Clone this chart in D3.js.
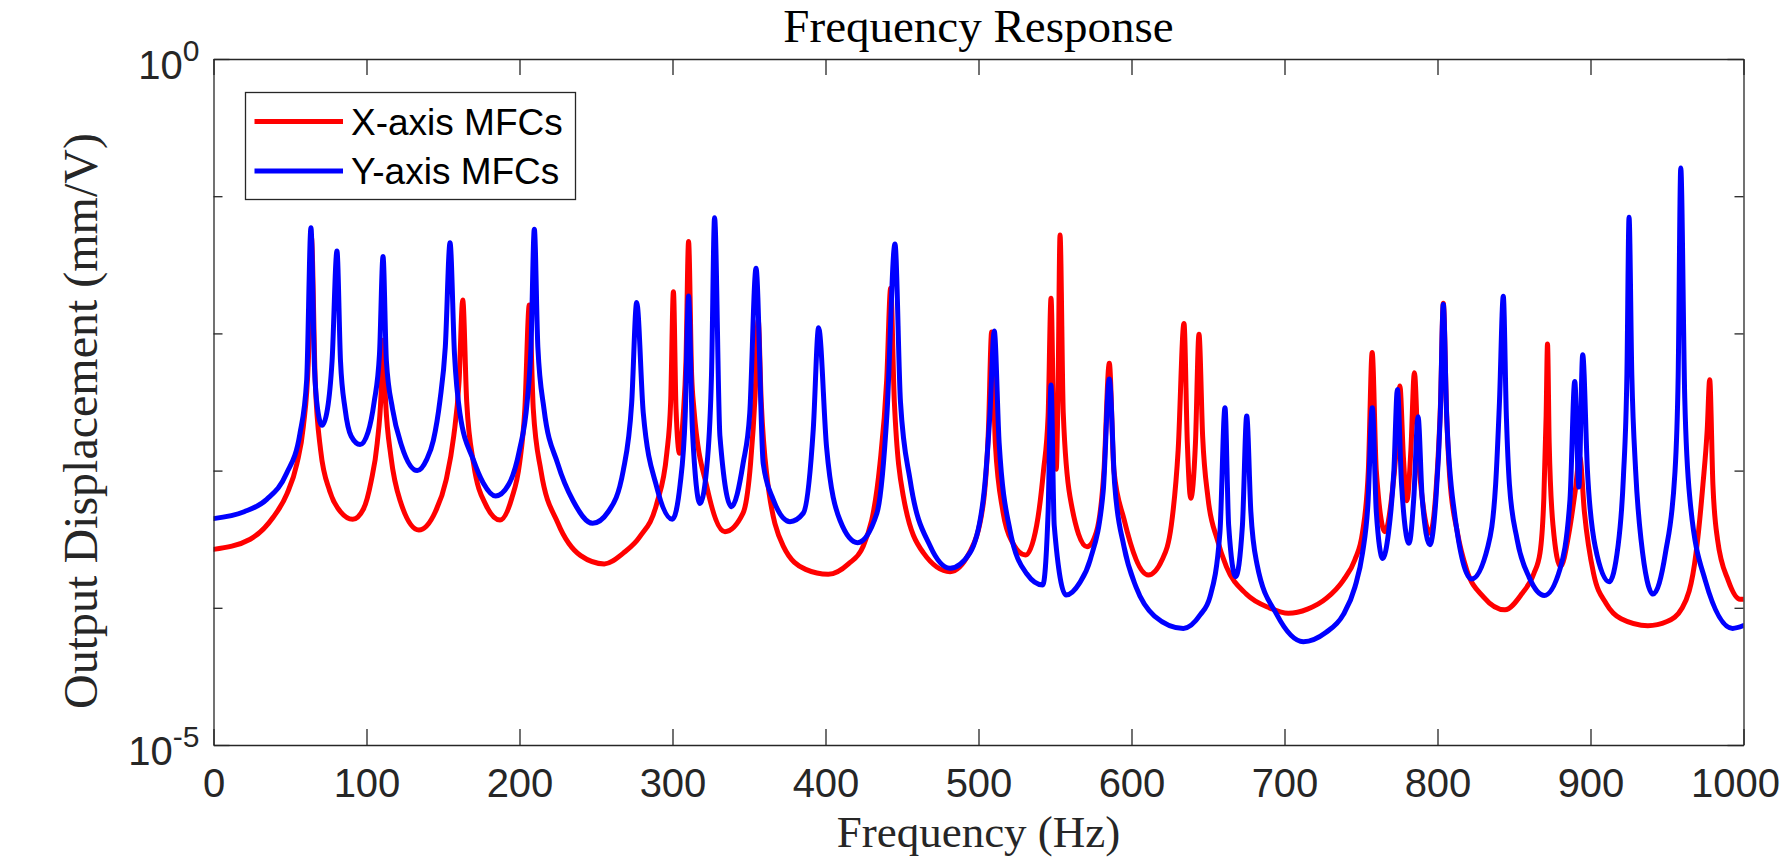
<!DOCTYPE html>
<html>
<head>
<meta charset="utf-8">
<script src="https://cdn.jsdelivr.net/npm/d3@7"></script>
<style>
  body { margin: 0; background: #fff; }
  svg { display: block; }
</style>
</head>
<body>
<div id="chart"></div>
<script>
// Readings: [frequency (Hz), log10 of displacement (mm/V)]
const xAxisMfcs = [
  [0,-3.574],[24,-3.5],[39,-3.34],[48,-3.17],[54.5,-2.95],[58.7,-2.68],[62,-2.2],[64,-1.3],[66.5,-2.35],[70,-2.85],
  [76,-3.15],[83,-3.3],[91,-3.355],[98,-3.28],[103,-3.08],[107,-2.8],[109.5,-2.45],[110.8,-2.05],[112.5,-2.5],[116,-2.9],
  [122,-3.22],[134.2,-3.433],[145,-3.3],[152,-3.07],[157,-2.75],[160.5,-2.35],[162.9,-1.757],[165.5,-2.5],[170,-2.95],[178,-3.25],
  [187.3,-3.36],[195,-3.2],[200,-2.95],[203.5,-2.55],[206.4,-1.793],[209,-2.55],[214,-3.0],[225,-3.38],[240,-3.62],[255.4,-3.68],
  [268,-3.6],[278.8,-3.48],[289.7,-3.24],[296.3,-2.87],[298.8,-2.5],[300.6,-1.696],[302.3,-2.55],[304.6,-2.874],[307,-2.6],[308.8,-2.2],
  [310.5,-1.331],[312.5,-2.3],[314,-2.55],[322.5,-3.12],[334.3,-3.445],[346.1,-3.31],[351,-2.95],[354,-2.45],[356,-1.9],[358,-2.5],
  [361.5,-3.02],[372.4,-3.55],[387,-3.72],[401.8,-3.756],[415,-3.68],[424.7,-3.55],[435.6,-2.95],[440,-2.34],[442.6,-1.671],[445,-2.5],
  [450.9,-3.19],[464,-3.6],[481.4,-3.737],[494,-3.6],[503,-3.25],[506.5,-2.7],[508.6,-1.99],[511,-2.8],[516,-3.3],[522,-3.52],
  [530.8,-3.615],[538,-3.4],[542.5,-3.0],[545.5,-2.6],[547.4,-1.744],[549.2,-2.7],[550.8,-2.99],[551.9,-2.5],[553.3,-1.283],[555.4,-2.58],
  [559.8,-3.19],[571,-3.555],[577,-3.45],[582,-3.0],[585.5,-2.218],[588.5,-3.0],[595,-3.35],[611,-3.761],[620,-3.65],[626,-3.4],
  [630.5,-2.85],[634.3,-1.927],[636.5,-2.8],[638.7,-3.202],[641.8,-2.8],[644.1,-2.007],[646.5,-2.75],[650,-3.2],[656,-3.5],[662,-3.7],
  [675,-3.9],[690,-4.0],[702.5,-4.04],[715,-4.01],[727.5,-3.93],[738.4,-3.8],[746,-3.65],[751,-3.45],[754.8,-3.0],[757.3,-2.14],[760,-3.0],
  [765.7,-3.445],[770,-3.2],[773,-2.85],[775.4,-2.383],[777.7,-2.9],[780,-3.219],[782.6,-2.85],[784.9,-2.286],[787.5,-2.9],[790,-3.2],
  [795.1,-3.457],[799,-3.15],[802,-2.5],[803.8,-1.781],[806,-2.6],[808,-3.05],[813,-3.45],[819,-3.72],[830,-3.92],[844.1,-4.015],
  [855,-3.9],[863,-3.75],[867,-3.6],[869.5,-3.2],[871,-2.6],[871.9,-2.077],[873,-2.8],[875.5,-3.4],[880.4,-3.7],[886,-3.45],
  [890,-3.15],[893,-2.9],[896,-3.3],[902,-3.75],[910.3,-3.97],[920,-4.08],[937.5,-4.13],[950,-4.1],[960,-4.0],[969,-3.6],
  [973.5,-3.1],[976.3,-2.7],[977.9,-2.337],[980,-3.1],[983,-3.5],[990,-3.8],[997.7,-3.937],[1000,-3.937]
];

const yAxisMfcs = [
  [0,-3.35],[20,-3.3],[34.8,-3.21],[47.8,-3.02],[56.5,-2.73],[60.9,-2.34],[63.7,-1.23],[66,-2.25],[68,-2.55],[71,-2.67],
  [74.5,-2.55],[77.5,-2.2],[80.7,-1.4],[83,-2.2],[86,-2.55],[90,-2.75],[95.8,-2.81],[101,-2.72],[105,-2.5],[108.5,-2.15],
  [110.8,-1.44],[113,-2.2],[117,-2.55],[123,-2.82],[133.2,-3.0],[139.3,-2.92],[143.7,-2.78],[148,-2.49],[151.5,-2.1],[154.6,-1.34],
  [157.5,-2.15],[161,-2.58],[169.8,-2.92],[176.3,-3.09],[184.4,-3.185],[193,-3.1],[200,-2.85],[205,-2.5],[207.5,-2.1],[209.7,-1.24],
  [212,-2.1],[216,-2.55],[225,-2.95],[235,-3.22],[247.8,-3.384],[258,-3.3],[267.8,-3.0],[273.3,-2.51],[276.6,-1.774],[280.9,-2.58],
  [289.7,-3.12],[299.9,-3.355],[305,-3.1],[308.3,-2.6],[310.5,-1.727],[313,-2.7],[318,-3.24],[323,-2.9],[325.5,-2.3],[327.5,-1.157],
  [331,-2.75],[338.5,-3.263],[346.1,-2.95],[350.5,-2.58],[354.6,-1.526],[359.3,-2.95],[365.8,-3.21],[376.8,-3.372],[385.5,-3.31],[392,-2.7],
  [395.5,-1.958],[400.7,-2.83],[409.4,-3.36],[421,-3.525],[433.6,-3.31],[440.2,-2.58],[445.4,-1.348],[449,-2.5],[455.3,-3.07],[468.4,-3.55],
  [481.4,-3.712],[494.4,-3.6],[503.1,-3.21],[507.5,-2.58],[510.3,-1.983],[513.5,-2.8],[520.5,-3.43],[531.4,-3.75],[542,-3.834],[545.5,-3.3],
  [547.4,-2.376],[549.5,-3.4],[557.2,-3.907],[566,-3.82],[573,-3.65],[581.5,-3.15],[585.5,-2.332],[589,-3.1],[595,-3.55],[603,-3.85],
  [615,-4.06],[633.9,-4.15],[645,-4.05],[651.3,-3.92],[657.8,-3.45],[661.1,-2.541],[663.5,-3.4],[668.1,-3.773],[672.5,-3.4],[675.3,-2.602],
  [678,-3.3],[682,-3.68],[695,-4.05],[712.3,-4.247],[727,-4.18],[738.4,-4.05],[746,-3.85],[751,-3.6],[754.5,-3.25],[757.4,-2.541],[760,-3.3],
  [764.2,-3.64],[768,-3.45],[771.5,-3.0],[773.8,-2.408],[776.5,-3.1],[781.4,-3.53],[784.5,-3.2],[787.3,-2.607],[790,-3.2],[795,-3.54],
  [799,-3.2],[801.8,-2.6],[803.8,-1.787],[806,-2.6],[811,-3.3],[822.3,-3.79],[833,-3.55],[838,-3.1],[840.5,-2.5],[843,-1.729],
  [845,-2.6],[847,-3.1],[852,-3.5],[860,-3.78],[869.8,-3.91],[880,-3.72],[886.6,-3.21],[889.7,-2.35],[892.4,-3.12],[894.9,-2.155],
  [898,-3.0],[903,-3.55],[912.2,-3.81],[918,-3.55],[921.5,-3.05],[923.8,-2.3],[925.2,-1.153],[927,-2.3],[929.5,-3.0],[933,-3.5],
  [940.9,-3.9],[949,-3.6],[955.1,-3.03],[957.3,-2.31],[959,-0.794],[961.6,-2.47],[965,-3.21],[975,-3.8],[992.9,-4.15],[1000,-4.13]
];

const series = [
  { name: "X-axis MFCs", color: "#ff0000", values: xAxisMfcs },
  { name: "Y-axis MFCs", color: "#0000ff", values: yAxisMfcs }
];

const freqTicks = [0, 100, 200, 300, 400, 500, 600, 700, 800, 900, 1000];
const majorDecades = [1, 1e-5];
const minorDecades = [1e-1, 1e-2, 1e-3, 1e-4];
const decadeLabels = [{ value: 1, exp: "0" }, { value: 1e-5, exp: "-5" }];

const W = 1781, H = 857;
const margin = { top: 59, right: 37.5, bottom: 112, left: 213.5 };
const width = W - margin.left - margin.right;
const height = H - margin.top - margin.bottom;
const axisColor = "#262626";
const sans = "'Liberation Sans', Arial, Helvetica, sans-serif";
const serif = "'Liberation Serif', 'Times New Roman', serif";

const svg = d3.select("#chart")
  .append("svg")
  .attr("width", W)
  .attr("height", H);

const g = svg.append("g")
  .attr("transform", `translate(${margin.left},${margin.top})`);

const x = d3.scaleLinear().domain([0, 1000]).range([0, width]);
const y = d3.scaleLog().domain([1e-5, 1]).range([height, 0]);

g.append("clipPath").attr("id", "plot-clip")
  .append("rect").attr("width", width).attr("height", height);

// curves
const line = d3.line()
  .x(d => x(d[0]))
  .y(d => y(Math.pow(10, d[1])))
  .curve(d3.curveMonotoneX);

g.append("g")
  .attr("clip-path", "url(#plot-clip)")
  .selectAll("path")
  .data(series)
  .enter().append("path")
  .attr("d", d => line(d.values))
  .attr("fill", "none")
  .attr("stroke", d => d.color)
  .attr("stroke-width", 5)
  .attr("stroke-linejoin", "round")
  .attr("stroke-linecap", "round");

// axes (box with inward ticks)
function styleAxis(sel) {
  sel.attr("color", axisColor);
  sel.select(".domain").attr("stroke-width", 1.3);
  sel.selectAll(".tick line").attr("stroke-width", 1.3);
}

g.append("g")
  .attr("transform", `translate(0,${height})`)
  .call(d3.axisBottom(x).tickValues(freqTicks).tickFormat(d3.format("d"))
    .tickSizeInner(-16).tickSizeOuter(0).tickPadding(24))
  .call(styleAxis)
  .call(a => a.selectAll("text").attr("font-family", sans).attr("font-size", 40).attr("fill", axisColor))
  // keep the last label inside the page
  .call(a => a.selectAll(".tick text").filter(d => d === 1000).attr("text-anchor", "end").attr("x", 36));

g.append("g")
  .call(d3.axisTop(x).tickValues(freqTicks).tickSizeInner(-16).tickSizeOuter(0).tickFormat(""))
  .call(styleAxis);

g.append("g")
  .call(d3.axisLeft(y).tickValues(majorDecades).tickSizeInner(-16).tickSizeOuter(0).tickFormat(""))
  .call(styleAxis);
g.append("g")
  .call(d3.axisLeft(y).tickValues(minorDecades).tickSizeInner(-9).tickSizeOuter(0).tickFormat(""))
  .call(styleAxis)
  .call(a => a.select(".domain").remove());

g.append("g")
  .attr("transform", `translate(${width},0)`)
  .call(d3.axisRight(y).tickValues(majorDecades).tickSizeInner(-16).tickSizeOuter(0).tickFormat(""))
  .call(styleAxis);
g.append("g")
  .attr("transform", `translate(${width},0)`)
  .call(d3.axisRight(y).tickValues(minorDecades).tickSizeInner(-9).tickSizeOuter(0).tickFormat(""))
  .call(styleAxis)
  .call(a => a.select(".domain").remove());

// y tick labels 10^n
const yLab = g.selectAll(".ylab")
  .data(decadeLabels)
  .enter().append("text")
  .attr("class", "ylab")
  .attr("x", -14)
  .attr("y", d => y(d.value) + 20)
  .attr("text-anchor", "end")
  .attr("font-family", sans)
  .attr("fill", axisColor);
yLab.append("tspan").attr("font-size", 40).text("10");
yLab.append("tspan").attr("font-size", 30).attr("dy", -18).text(d => d.exp);

// title and axis labels
svg.append("text")
  .attr("x", margin.left + width / 2)
  .attr("y", 42)
  .attr("text-anchor", "middle")
  .attr("font-family", serif)
  .attr("font-size", 47)
  .attr("fill", "#000")
  .text("Frequency Response");

svg.append("text")
  .attr("x", margin.left + width / 2)
  .attr("y", 847)
  .attr("text-anchor", "middle")
  .attr("font-family", serif)
  .attr("font-size", 45)
  .attr("fill", axisColor)
  .text("Frequency (Hz)");

svg.append("text")
  .attr("transform", `translate(97,421) rotate(-90)`)
  .attr("text-anchor", "middle")
  .attr("font-family", serif)
  .attr("font-size", 48)
  .attr("fill", axisColor)
  .text("Output Displacement (mm/V)");

// legend
const legend = svg.append("g").attr("transform", "translate(245.5,92.5)");
legend.append("rect")
  .attr("width", 330)
  .attr("height", 107)
  .attr("fill", "#fff")
  .attr("stroke", axisColor)
  .attr("stroke-width", 1.3);

const item = legend.selectAll(".item")
  .data(series)
  .enter().append("g")
  .attr("transform", (d, i) => `translate(0,${29 + i * 49.5})`);
item.append("line")
  .attr("x1", 9).attr("x2", 97.5)
  .attr("stroke", d => d.color)
  .attr("stroke-width", 5);
item.append("text")
  .attr("x", 105.5)
  .attr("y", 13)
  .attr("font-family", sans)
  .attr("font-size", 37)
  .attr("fill", "#000")
  .text(d => d.name);
</script>
</body>
</html>
